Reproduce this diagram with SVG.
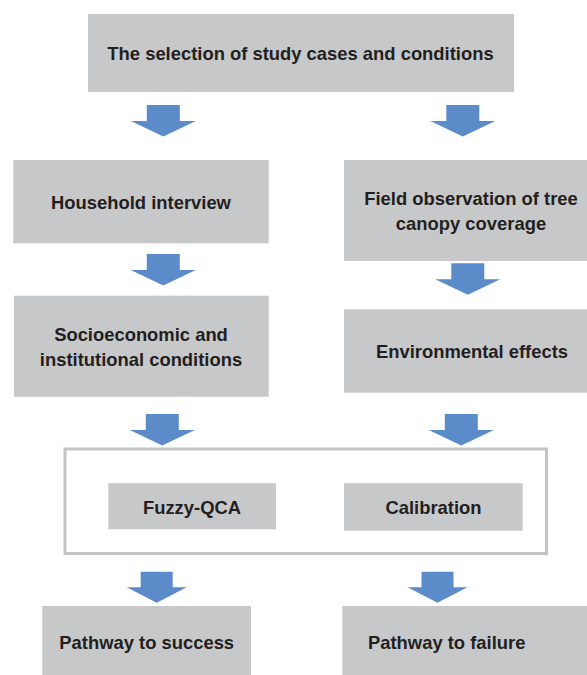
<svg xmlns="http://www.w3.org/2000/svg" width="587" height="675" viewBox="0 0 587 675">
<style>
.box{fill:#c7c8ca}
.t{font-family:"Liberation Sans",Arial,sans-serif;font-weight:bold;font-size:18.4px;fill:#231f20;text-anchor:middle}
.arr{fill:#5b8cc9}
.frame{fill:none;stroke:#c3c4c6;stroke-width:3}
</style>
<defs>
<path id="arrow" d="M-16.5 0 H16.5 V16 H32.5 L0 31.5 L-32.5 16 H-16.5 Z"/>
<path id="arrowS" d="M-16 0 H16 V15.5 H30 L0 31 L-30 15.5 H-16 Z"/>
</defs>
<rect width="587" height="675" fill="#ffffff"/>
<g id="connectors" class="arr">
<use href="#arrow" x="163.3" y="105"/>
<use href="#arrow" x="462.8" y="105"/>
<use href="#arrow" x="163.3" y="254"/>
<use href="#arrow" x="467.8" y="263.3"/>
<use href="#arrow" x="162.3" y="414"/>
<use href="#arrow" x="461.3" y="414"/>
<use href="#arrowS" x="156.7" y="571.7"/>
<use href="#arrowS" x="437.5" y="571.7"/>
</g>
<g id="n-selection">
<rect class="box" x="88" y="14" width="426" height="78"/>
<text class="t" x="300.5" y="60">The selection of study cases and conditions</text>
</g>
<g id="n-household">
<rect class="box" x="13.3" y="160" width="255.4" height="83.3"/>
<text class="t" x="141" y="209">Household interview</text>
</g>
<g id="n-field">
<rect class="box" x="344" y="160" width="243" height="101"/>
<text class="t" x="471" y="205">Field observation of tree</text>
<text class="t" x="471" y="230">canopy coverage</text>
</g>
<g id="n-socio">
<rect class="box" x="14" y="295.7" width="254.7" height="101"/>
<text class="t" x="141" y="341">Socioeconomic and</text>
<text class="t" x="141" y="365.5">institutional conditions</text>
</g>
<g id="n-env">
<rect class="box" x="344" y="309.3" width="243" height="83.4"/>
<text class="t" x="472" y="358">Environmental effects</text>
</g>
<g id="n-frame">
<rect class="frame" x="65" y="449" width="481.5" height="104.5"/>
</g>
<g id="n-fuzzy">
<rect class="box" x="108.3" y="483.3" width="167.7" height="46"/>
<text class="t" x="192" y="514">Fuzzy-QCA</text>
</g>
<g id="n-calibration">
<rect class="box" x="344" y="483.3" width="178.7" height="47.4"/>
<text class="t" x="433.5" y="514">Calibration</text>
</g>
<g id="n-success">
<rect class="box" x="42.3" y="606" width="208.7" height="69"/>
<text class="t" x="146.7" y="648.5">Pathway to success</text>
</g>
<g id="n-failure">
<rect class="box" x="342.3" y="606" width="244.7" height="69"/>
<text class="t" x="446.7" y="648.5">Pathway to failure</text>
</g>
</svg>
